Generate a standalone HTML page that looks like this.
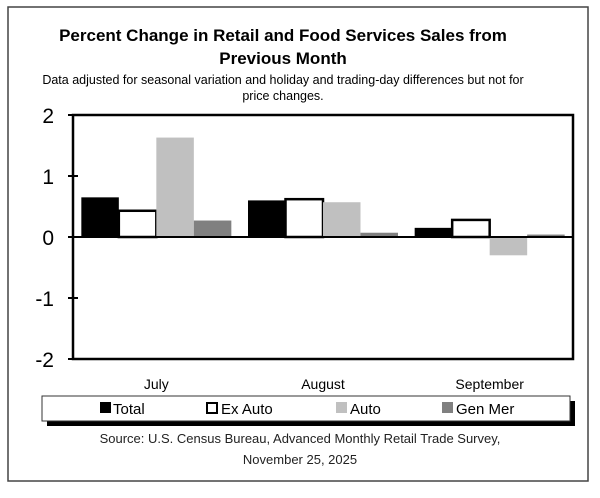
<!DOCTYPE html>
<html><head><meta charset="utf-8"><style>
body{margin:0;width:600px;height:493px;background:#fff;font-family:"Liberation Sans",sans-serif;overflow:hidden}
</style></head><body>
<svg width="600" height="493" id="svg">
<rect x="8" y="7" width="580" height="474" fill="#fff" stroke="#444" stroke-width="1.5"/>
<text x="283" y="41" text-anchor="middle" font-size="17" font-weight="bold">Percent Change in Retail and Food Services Sales from</text>
<text x="283" y="64" text-anchor="middle" font-size="17" font-weight="bold">Previous Month</text>
<text x="283" y="84" text-anchor="middle" font-size="12.5">Data adjusted for seasonal variation and holiday and trading-day differences but not for</text>
<text x="283" y="100" text-anchor="middle" font-size="12.5">price changes.</text>
<g id="plot"></g>
<rect x="47" y="401" width="528" height="25" fill="#000"/>
<rect x="42" y="396" width="528" height="25" fill="#fff" stroke="#333" stroke-width="1"/>
<g font-size="15" font-family="Liberation Sans,sans-serif">
<rect x="100" y="402" width="11" height="11" fill="#000"/>
<text x="113" y="414">Total</text>
<rect x="207" y="403" width="10" height="10" fill="#fff" stroke="#000" stroke-width="2"/>
<text x="221" y="414">Ex Auto</text>
<rect x="336" y="402" width="11" height="11" fill="#c0c0c0"/>
<text x="350" y="414">Auto</text>
<rect x="442" y="402" width="11" height="11" fill="#808080"/>
<text x="456" y="414">Gen Mer</text>
</g>
<text x="300" y="443" text-anchor="middle" font-size="13" fill="#222">Source: U.S. Census Bureau, Advanced Monthly Retail Trade Survey,</text>
<text x="300" y="464" text-anchor="middle" font-size="13" fill="#222">November 25, 2025</text>
</svg>
<script>
const categories=["July","August","September"];
const totalVals=[0.65,0.60,0.15];
const exAutoVals=[0.43,0.62,0.28];
const autoVals=[1.63,0.57,-0.30];
const genMerVals=[0.27,0.07,0.04];
const yTicks=[2,1,0,-1,-2];
const NS="http://www.w3.org/2000/svg";
const g=document.getElementById('plot');
const L=73,R=573,T=115,B=359,ymin=-2,ymax=2;
const y=v=>T+(ymax-v)/(ymax-ymin)*(B-T);
const groupW=(R-L)/categories.length;
function mk(tag,a){const e=document.createElementNS(NS,tag);for(const k in a)e.setAttribute(k,a[k]);g.appendChild(e);return e;}
const series=[[totalVals,"#000","none","total"],[exAutoVals,"#fff","#000","ex-auto"],[autoVals,"#c0c0c0","none","auto"],[genMerVals,"#808080","none","gen-mer"]];
const bw=37.5;
categories.forEach((c,i)=>{
  const x0=L+i*groupW+(groupW-4*bw)/2;
  series.forEach((s,j)=>{
    const v=s[0][i];
    const r=mk('rect',{x:x0+j*bw,y:Math.min(y(v),y(0)),width:bw,height:Math.abs(y(v)-y(0)),fill:s[1],stroke:s[2],'stroke-width':s[2]==='none'?0:2.5});
    
    
  });
  const t=mk('text',{x:L+i*groupW+groupW/2,y:389,'text-anchor':'middle','font-size':14});
  t.textContent=c;
  
  
});
const fr=mk('rect',{x:L,y:T,width:R-L,height:B-T,fill:'none',stroke:'#000','stroke-width':2.5});


const zl=mk('line',{x1:L-5,x2:R,y1:y(0),y2:y(0),stroke:'#000','stroke-width':2});


yTicks.forEach(v=>{
  const tk=mk('line',{x1:L-5,x2:L+5,y1:y(v),y2:y(v),stroke:'#000','stroke-width':2});
  
  
  const t=mk('text',{x:54,y:y(v)+8,'text-anchor':'end','font-size':21});
  t.textContent=v;
  
  
});
</script>
</body></html>
